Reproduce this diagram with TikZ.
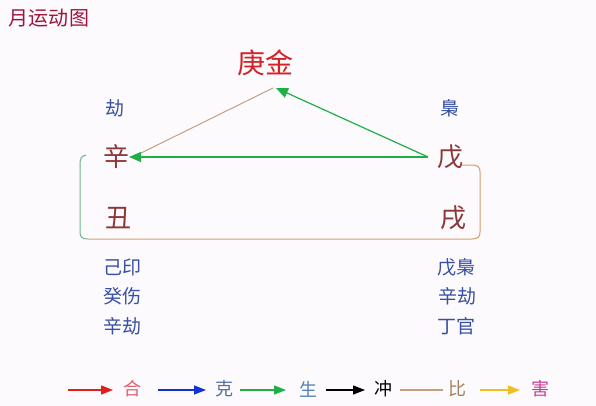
\documentclass[tikz,border=0pt]{standalone}
\usepackage{fontspec}
\setmainfont{Noto Sans CJK SC}
\usetikzlibrary{arrows.meta}
\definecolor{bg}{RGB}{252,250,253}
\definecolor{titlec}{RGB}{160,20,60}
\definecolor{gengc}{RGB}{210,35,40}
\definecolor{stemc}{RGB}{140,55,55}
\definecolor{labc}{RGB}{55,80,165}
\definecolor{grn}{RGB}{30,175,70}
\definecolor{grnb}{RGB}{110,180,140}
\definecolor{tan}{RGB}{210,160,110}
\definecolor{tanl}{RGB}{195,160,130}
\definecolor{redc}{RGB}{225,30,30}
\definecolor{bluec}{RGB}{20,50,210}
\definecolor{yelc}{RGB}{240,190,30}
\definecolor{hec}{RGB}{225,95,110}
\definecolor{kec}{RGB}{80,110,160}
\definecolor{shengc}{RGB}{80,130,180}
\definecolor{bic}{RGB}{165,130,95}
\definecolor{haic}{RGB}{200,60,150}
\begin{document}
\begin{tikzpicture}[x=1pt,y=-1pt,
  every node/.style={inner sep=0pt},
  big/.style={font=\fontsize{26}{26}\selectfont,text=stemc},
  lab/.style={font=\fontsize{19}{19}\selectfont,text=labc},
  leg/.style={font=\fontsize{18}{18}\selectfont},
  arr/.style={-{Triangle[length=12pt,width=10pt]},line width=1.2pt},
  legarr/.style={-{Triangle[length=12pt,width=9pt]},line width=1.3pt}]
\fill[bg] (0,0) rectangle (596,406);
\useasboundingbox (0,0) rectangle (596,406);
\node[font=\fontsize{20}{20}\selectfont,text=titlec] (title) at (49,18) {月运动图};
\node[font=\fontsize{28}{28}\selectfont,text=gengc] (geng) at (265,63) {庚金};
\node[lab] (jie) at (115,108) {劫};
\node[lab] (xiao) at (450,108) {梟};
\node[big] (xin) at (116,157) {辛};
\node[big] (wu) at (450,157) {戊};
\node[big] (chou) at (118,218) {丑};
\node[big] (xu) at (453,218) {戌};
\node[lab] (l1) at (122,267) {己印};
\node[lab] (l2) at (122,296) {癸伤};
\node[lab] (l3) at (122,326) {辛劫};
\node[lab] (r1) at (456,267) {戊梟};
\node[lab] (r2) at (457,296) {辛劫};
\node[lab] (r3) at (456,326) {丁官};
% connector ends
\coordinate (wuW) at (428,157);
\coordinate (xinE) at (129,157);
\coordinate (gengB) at (276,88);
\coordinate (gengL) at (273,88);
\coordinate (xinNE) at (133,157);
\draw[tanl,line width=1pt] (gengL) -- (xinNE);
\draw[arr,grn] (wuW) -- (xinE);
\draw[arr,grn] (wuW) -- (gengB);
% bracket
\coordinate (bl0) at (86,155);
\coordinate (bb0) at (88,239);
\coordinate (br0) at (462,165);
\draw[grnb,line width=1pt] (bl0) .. controls (81,156) and (80,159) .. (80,165) -- (80,232) .. controls (80,237) and (82,239) .. (bb0);
\draw[tan,line width=1pt] (bb0) -- (472,239) .. controls (478,239) and (480,237) .. (480,232) -- (480,172) .. controls (480,167) and (478,165) .. (472,165) -- (br0);
% legend
\coordinate (a1s) at (68,390); \coordinate (a1e) at (113,390);
\coordinate (a2s) at (158,390); \coordinate (a2e) at (206,390);
\coordinate (a3s) at (240,390); \coordinate (a3e) at (286,390);
\coordinate (a4s) at (326,390); \coordinate (a4e) at (365,390);
\coordinate (a5s) at (400,390); \coordinate (a5e) at (443,390);
\coordinate (a6s) at (480,390); \coordinate (a6e) at (520,390);
\draw[legarr,redc] (a1s) -- (a1e);
\node[leg,text=hec] (he) at (132,389) {合};
\draw[legarr,bluec] (a2s) -- (a2e);
\node[leg,text=kec] (ke) at (224,389) {克};
\draw[legarr,grn] (a3s) -- (a3e);
\node[leg,text=shengc] (sheng) at (308,389) {生};
\draw[legarr,black] (a4s) -- (a4e);
\node[leg,text=black] (chong) at (383,389) {冲};
\draw[tanl,line width=1.3pt] (a5s) -- (a5e);
\node[leg,text=bic] (bi) at (457,389) {比};
\draw[legarr,yelc] (a6s) -- (a6e);
\node[leg,text=haic] (hai) at (540,389) {害};
\end{tikzpicture}
\end{document}
